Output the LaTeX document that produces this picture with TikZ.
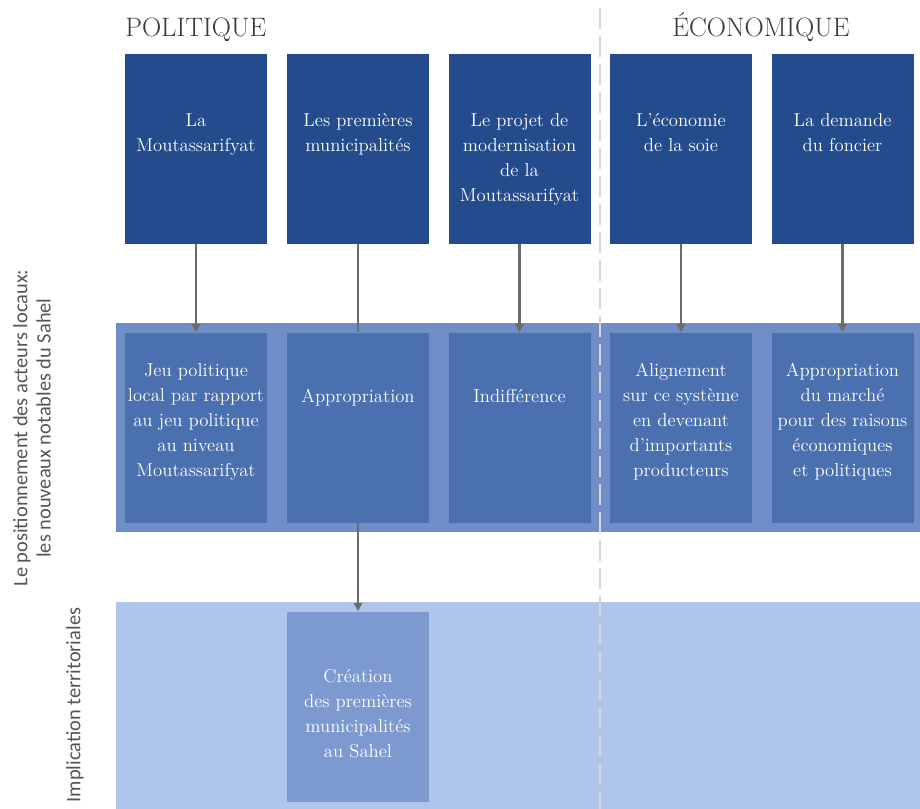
\documentclass[tikz,border=0pt]{standalone}
\usepackage{fontspec}
\setsansfont{Carlito}
\usetikzlibrary{positioning,arrows.meta}
\definecolor{SahelNavy}{HTML}{244B8C}
\definecolor{BandMid}{HTML}{6F8EC8}
\definecolor{BoxMid}{HTML}{4B70AF}
\definecolor{BandLow}{HTML}{AFC6EA}
\definecolor{BoxLow}{HTML}{7C9AD0}
\definecolor{ArrowGray}{HTML}{6B6B6B}
\definecolor{HeadGray}{HTML}{3A3A3A}
\definecolor{SideGray}{HTML}{555555}
\definecolor{DivGray}{HTML}{D6D6D6}

\begin{document}
\begin{tikzpicture}[x=0.75pt,y=-0.75pt,
      cell/.style={minimum width=106.5pt,minimum height=142.5pt,inner sep=0pt},
      topbox/.style={cell,fill=SahelNavy},
      midbox/.style={cell,fill=BoxMid},
      lowbox/.style={cell,fill=BoxLow},
      txt/.style={anchor=north,align=center,inner sep=0pt,text=white,
                  font=\fontsize{14}{18.75}\selectfont},
      heading/.style={font=\fontsize{20}{22}\selectfont,text=HeadGray,inner sep=0pt},
      sidelbl/.style={rotate=90,align=center,text=SideGray,
                      font=\sffamily\fontsize{15.3}{17.6}\selectfont},
      go/.style={-{Triangle[length=6pt,width=6pt]},ArrowGray,line width=1.6pt},
      tie/.style={ArrowGray,line width=1.6pt}]
    \useasboundingbox (0,0) rectangle (920,809);
    % bands
    \fill[BandMid] (116,323) rectangle (920,532);
    \fill[BandLow] (116,602) rectangle (920,809);
    \coordinate (divtop) at (600,8);
    \coordinate (divbot) at (600,809);
    \draw[DivGray,line width=1.4pt,dash pattern=on 16pt off 5pt] (divtop) -- (divbot);
    % headings and side labels
    \node[heading,anchor=base west] (polit) at (125,37) {POLITIQUE};
    \node[heading,anchor=base] (econ) at (761,37) {ÉCONOMIQUE};
    \node[sidelbl] (acteurs) at (32,428) {Le positionnement des acteurs locaux:\\les nouveaux notables du Sahel};
    \node[sidelbl] (implic) at (75,705) {Implication territoriales};
    % causes
    \node[topbox] (moutas)  at (196,149)   {};
    \node[topbox] (munic)   at (358,149)   {};
    \node[topbox] (modern)  at (519.5,149) {};
    \node[topbox] (soie)    at (681,149)   {};
    \node[topbox] (foncier) at (842.5,149) {};
    \node[txt] (moutasT)  at (196,113)   {La\\Moutassarifyat};
    \node[txt] (municT)   at (358,113)   {Les premières\\municipalités};
    \node[txt] (modernT)  at (519.5,113) {Le projet de\\modernisation\\de la\\Moutassarifyat};
    \node[txt] (soieT)    at (681,113)   {L’économie\\de la soie};
    \node[txt] (foncierT) at (842.5,113) {La demande\\du foncier};
    % positions
    \node[midbox] (jeu)    at (196,427.5)   {};
    \node[midbox] (approp) at (358,427.5)   {};
    \node[midbox] (indiff) at (519.5,427.5) {};
    \node[midbox] (align)  at (681,427.5)   {};
    \node[midbox] (marche) at (842.5,427.5) {};
    \node[txt] (jeuT)    at (196,363)   {Jeu politique\\local par rapport\\au jeu politique\\au niveau\\Moutassarifyat};
    \node[txt] (appropT) at (358,389)   {Appropriation};
    \node[txt] (indiffT) at (519.5,389) {Indifférence};
    \node[txt] (alignT)  at (681,363)   {Alignement\\sur ce système\\en devenant\\d’importants\\producteurs};
    \node[txt] (marcheT) at (842.5,363) {Appropriation\\du marché\\pour des raisons\\économiques\\et politiques};
    % territory
    \node[lowbox] (creation) at (358,706.5) {};
    \node[txt] (creationT) at (358,669) {Création\\des premières\\municipalités\\au Sahel};
    \draw[go] (moutas) -- (jeu);
    \draw[tie] (munic) -- (approp);
    \draw[go] (modern) -- (indiff);
    \draw[go] (soie) -- (align);
    \draw[go] (foncier) -- (marche);
    \draw[go] (approp) -- (creation);
  \end{tikzpicture}
\end{document}
